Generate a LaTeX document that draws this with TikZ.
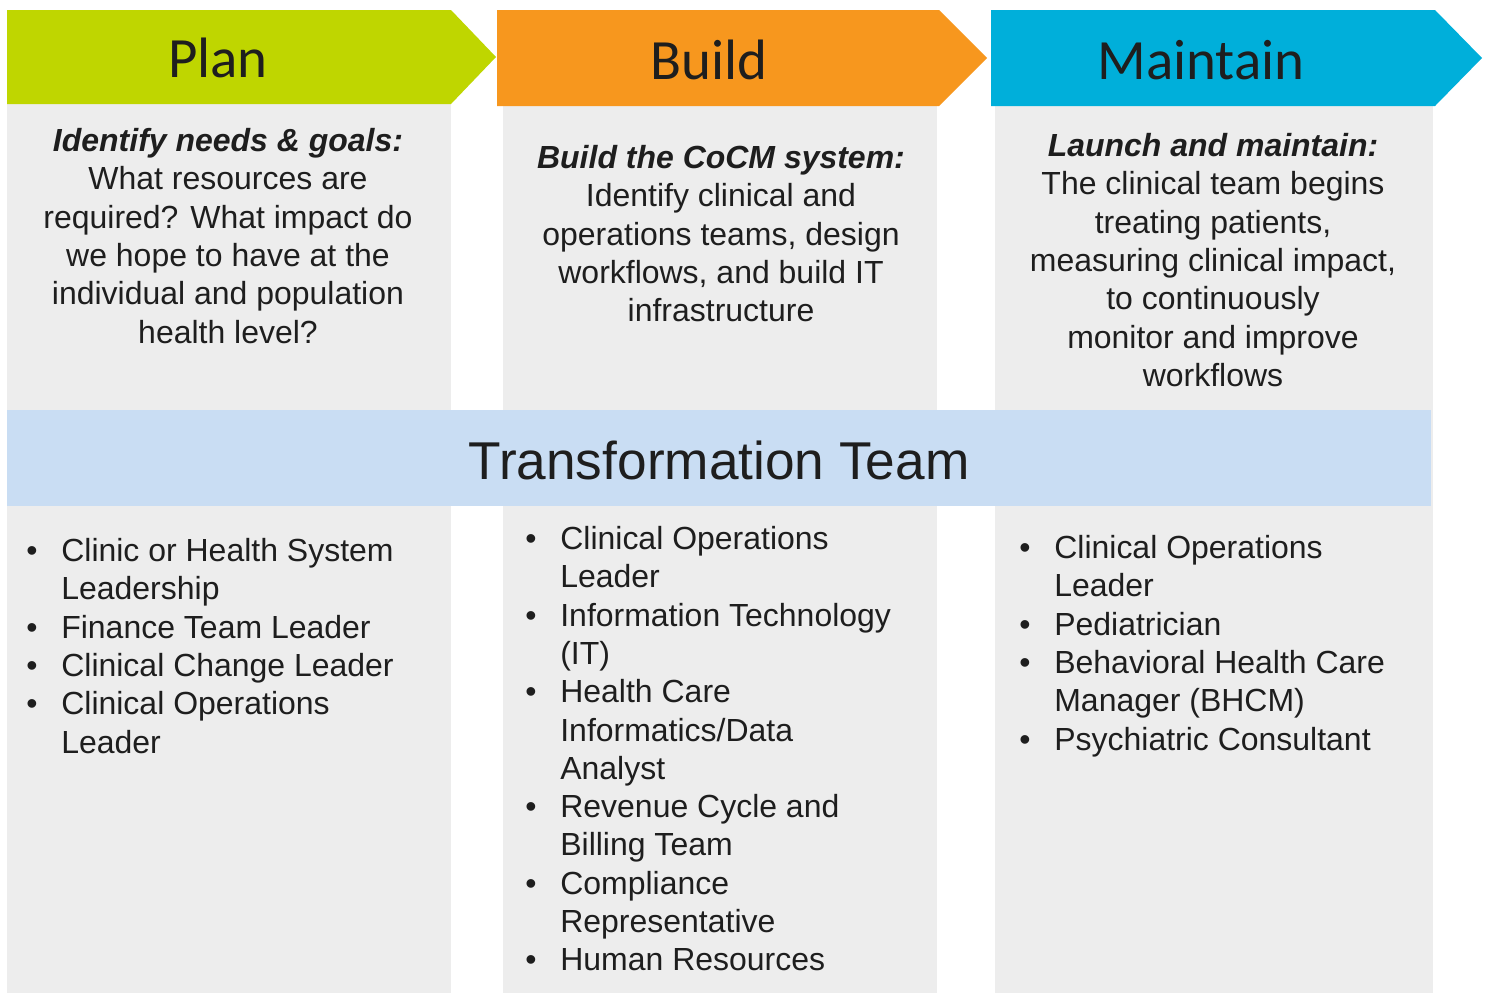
\documentclass[tikz,border=0pt]{standalone}
\usepackage{fontspec}
\setmainfont{Liberation Sans}
\newfontfamily\headfont{Carlito}
\usetikzlibrary{positioning}
\definecolor{plangreen}{RGB}{191,214,0}
\definecolor{buildorange}{RGB}{247,151,30}
\definecolor{maintblue}{RGB}{0,175,218}
\definecolor{panelgrey}{RGB}{237,237,237}
\definecolor{teamblue}{RGB}{201,221,243}
\definecolor{inkgrey}{RGB}{30,30,30}
\newcommand{\itm}{\makebox[0.7cm][l]{\textbullet}}
\newcommand{\ind}{\hspace*{0.7cm}}
\tikzset{
  phase/.style={font=\headfont\fontsize{32.4}{38}\selectfont,anchor=base,text=inkgrey,inner sep=0pt},
  desc/.style={font=\fontsize{18.2}{21.8}\selectfont,align=center,anchor=north,inner sep=0pt,text=inkgrey},
  roles/.style={font=\fontsize{18.2}{21.8}\selectfont,align=left,anchor=north west,inner sep=0pt,text=inkgrey},
}

\begin{document}
\begin{tikzpicture}[x=0.02cm,y=-0.02cm]
    \useasboundingbox (0,0) rectangle (1488,995);

    % Colonne grigie
    \fill[panelgrey] (7,100) rectangle (451,993);
    \fill[panelgrey] (503,100) rectangle (937,993);
    \fill[panelgrey] (995,100) rectangle (1433,993);

    % Frecce delle fasi
    \fill[plangreen] (7,10) -- (451,10) -- (496,57) -- (451,104) -- (7,104) -- cycle;
    \fill[buildorange] (497,10) -- (939,10) -- (987,58) -- (939,106) -- (497,106) -- cycle;
    \fill[maintblue] (991,10) -- (1435,10) -- (1482,58) -- (1435,106) -- (991,106) -- cycle;
    \node[phase] (plan) at (218,77) {Plan};
    \node[phase] (build) at (709,79) {Build};
    \node[phase] (maintain) at (1201,79) {Maintain};

    % Descrizioni
    \node[desc] (plandesc) at (228,128) {
        \textbf{\textit{Identify needs \& goals:}}\\
        What resources are\\
        required? What impact do\\
        we hope to have at the\\
        individual and population\\
        health level?
    };
    \node[desc] (builddesc) at (721,145) {
        \textbf{\textit{Build the CoCM system:}}\\
        Identify clinical and\\
        operations teams, design\\
        workflows, and build IT\\
        infrastructure
    };
    \node[desc] (maintdesc) at (1213,133) {
        \textbf{\textit{Launch and maintain:}}\\
        The clinical team begins\\
        treating patients,\\
        measuring clinical impact,\\
        to continuously\\
        monitor and improve\\
        workflows
    };

    % Banda centrale
    \fill[teamblue] (7,410) rectangle (1431,506);
    \node[anchor=base,font=\fontsize{30.3}{36}\selectfont,text=inkgrey,inner sep=0pt] (team) at (719,479) {Transformation Team};

    % Ruoli
    \node[roles] (planroles) at (26,538) {
        \itm Clinic or Health System\\
        \ind Leadership\\
        \itm Finance Team Leader\\
        \itm Clinical Change Leader\\
        \itm Clinical Operations\\
        \ind Leader
    };
    \node[roles] (buildroles) at (525,526) {
        \itm Clinical Operations\\
        \ind Leader\\
        \itm Information Technology\\
        \ind (IT)\\
        \itm Health Care\\
        \ind Informatics/Data\\
        \ind Analyst\\
        \itm Revenue Cycle and\\
        \ind Billing Team\\
        \itm Compliance\\
        \ind Representative\\
        \itm Human Resources
    };
    \node[roles] (maintroles) at (1019,535) {
        \itm Clinical Operations\\
        \ind Leader\\
        \itm Pediatrician\\
        \itm Behavioral Health Care\\
        \ind Manager (BHCM)\\
        \itm Psychiatric Consultant
    };
\end{tikzpicture}
\end{document}
